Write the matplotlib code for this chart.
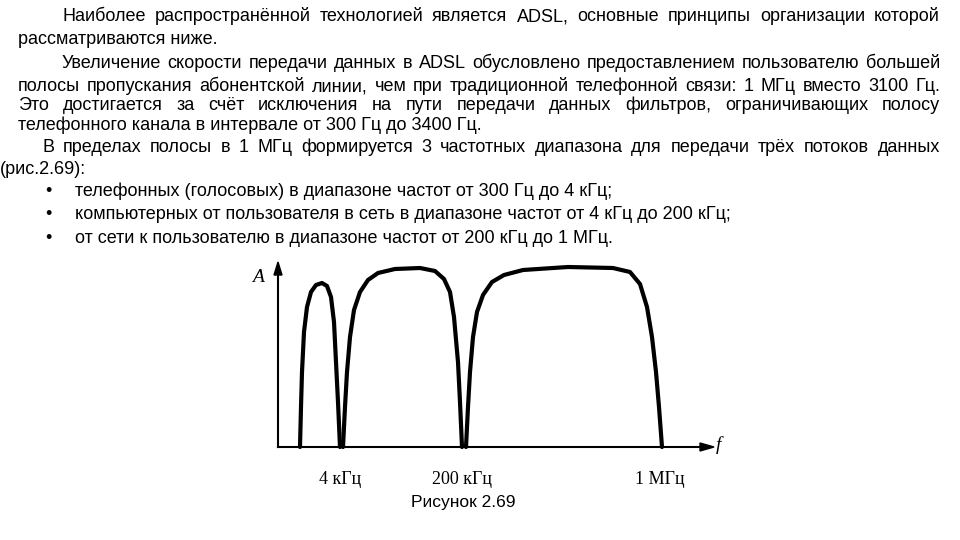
import matplotlib
matplotlib.use("Agg")
import matplotlib.pyplot as plt

# text lines: (x_left, y, text, justified_to_right_edge)
lines = [
    (62, 15, "Наиболее распространённой технологией является ADSL, основные принципы организации которой", True),
    (18, 38, "рассматриваются ниже.", False),
    (62, 62, "Увеличение скорости передачи данных в ADSL обусловлено предоставлением пользователю большей", True),
    (18, 85, "полосы пропускания абонентской линии, чем при традиционной телефонной связи: 1 МГц вместо 3100 Гц.", True),
    (18, 104, "Это достигается за счёт исключения на пути передачи данных фильтров, ограничивающих полосу", True),
    (18, 124, "телефонного канала в интервале от 300 Гц до 3400 Гц.", False),
    (42, 146, "В пределах полосы в 1 МГц формируется 3 частотных диапазона для передачи трёх потоков данных", True),
    (0, 168, "(рис.2.69):", False),
]
bullets = [
    (190, "телефонных (голосовых) в диапазоне частот от 300 Гц до 4 кГц;"),
    (213, "компьютерных от пользователя в сеть в диапазоне частот от 4 кГц до 200 кГц;"),
    (237, "от сети к пользователю в диапазоне частот от 200 кГц до 1 МГц."),
]
RIGHT = 940

# spectrum lobes: (frequency position, amplitude) in diagram units
lobe1_f = [22, 23, 24, 26, 29, 33, 38, 44, 49, 53, 56, 58, 60, 62]
lobe1_a = [0, 40, 75, 115, 140, 155, 162, 164, 161, 150, 125, 85, 45, 0]
lobe2_f = [65, 67, 69, 72, 76, 82, 90, 100, 117, 142, 157, 166, 172, 176, 180, 182, 184]
lobe2_a = [0, 40, 75, 110, 137, 155, 167, 174, 178, 179, 176, 168, 155, 130, 85, 45, 0]
lobe3_f = [188, 190, 192, 195, 199, 205, 214, 226, 245, 290, 335, 352, 362, 369, 374, 378, 381, 384]
lobe3_a = [0, 40, 75, 110, 135, 152, 165, 172, 177, 180, 179, 175, 163, 140, 110, 75, 40, 0]
tick_pos = [62, 184, 382]
tick_labels = ["4 кГц", "200 кГц", "1 МГц"]

fig = plt.figure(figsize=(9.6, 5.4), dpi=100)
ax = fig.add_axes([0, 0, 1, 1])
ax.set_xlim(0, 960); ax.set_ylim(540, 0); ax.axis("off")

FS = 13.0
FONT = "Liberation Sans"
fig.canvas.draw()
r = fig.canvas.get_renderer()

def width(t):
    tt = ax.text(0, 0, t, fontsize=FS, family=FONT)
    w = tt.get_window_extent(r).width
    tt.remove()
    return w

BO = 6  # baseline offset from line centre
for x, y, t, just in lines:
    if not just:
        ax.text(x, y + BO, t, fontsize=FS, family=FONT, va="baseline", ha="left")
        continue
    words = t.split(" ")
    ws = [width(w) for w in words]
    gap = (RIGHT - x - sum(ws)) / (len(words) - 1)
    cx = x
    for w, wd in zip(words, ws):
        ax.text(cx, y + BO, w, fontsize=FS, family=FONT, va="baseline", ha="left")
        cx += wd + gap
for y, t in bullets:
    ax.text(45, y + BO, "•", fontsize=FS, family=FONT, va="baseline", ha="left")
    ax.text(75, y + BO, t, fontsize=FS, family=FONT, va="baseline", ha="left")

# diagram
ox, oy = 278, 447
def P(f, a):
    return [ox + v for v in f], [oy - v for v in a]
ax.plot([ox, ox], [oy, 272], color="black", lw=1.5)
ax.plot([ox, 705], [oy, oy], color="black", lw=1.5)
ax.fill([ox - 4, ox + 4, ox], [275, 275, 262], color="black")
ax.fill([700, 700, 714], [oy - 4, oy + 4, oy], color="black")
for f, a in [(lobe1_f, lobe1_a), (lobe2_f, lobe2_a), (lobe3_f, lobe3_a)]:
    xs, ys = P(f, a)
    ax.plot(xs, ys, color="black", lw=3, solid_joinstyle="round", solid_capstyle="round")
for p, l in zip(tick_pos, tick_labels):
    ax.text(ox + p, 480, l, fontsize=13, family="Liberation Serif", ha="center", va="center")
ax.text(258, 277, "A", fontsize=14, family="Liberation Serif", style="italic", ha="center", va="center")
ax.text(718, 445, "f", fontsize=14, family="Liberation Serif", style="italic", ha="center", va="center")
ax.text(463, 503, "Рисунок 2.69", fontsize=12.5, family=FONT, ha="center", va="center")

fig.savefig("out.png", dpi=100)
